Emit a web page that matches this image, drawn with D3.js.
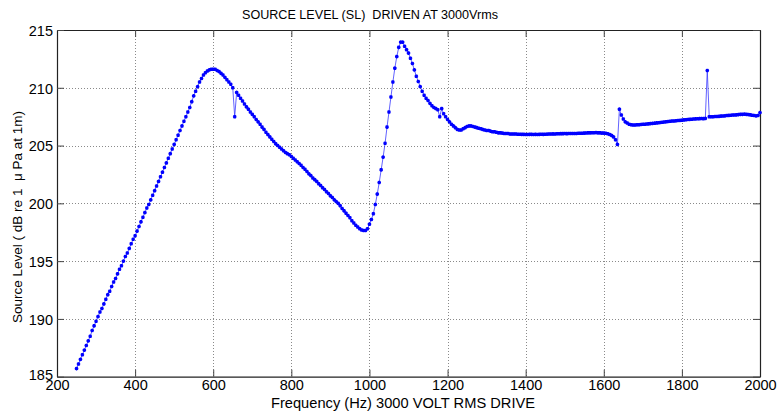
<!DOCTYPE html>
<html>
<head>
<meta charset="utf-8">
<script src="https://cdn.jsdelivr.net/npm/d3@7"></script>
<style>
  html, body { margin: 0; padding: 0; background: #ffffff; }
  svg { display: block; }
  text { font-family: Arial, "Liberation Sans", Helvetica, sans-serif; fill: #000; white-space: pre; }
</style>
</head>
<body>
<svg id="chart" width="778" height="419"></svg>
<script>
// Measured source level, one sample every 5 Hz from 250 Hz to 2000 Hz
const freqStart = 250, freqStop = 2000, freqStep = 5;
const freqHz = d3.range(freqStart, freqStop + 1, freqStep);

const levelDb = [
  185.7,186.1,186.5,186.9,187.3,187.7,188.1,188.5,189.0,189.4,
  189.8,190.2,190.6,190.9,191.3,191.7,192.1,192.4,192.8,193.2,
  193.5,193.9,194.3,194.6,195.0,195.4,195.7,196.1,196.5,196.9,
  197.2,197.6,198.0,198.4,198.8,199.2,199.6,199.9,200.3,200.7,
  201.1,201.5,201.9,202.3,202.7,203.1,203.5,203.9,204.3,204.7,
  205.1,205.5,205.9,206.3,206.7,207.1,207.5,207.9,208.3,208.8,
  209.3,209.7,210.1,210.5,210.8,211.1,211.3,211.45,211.55,211.6,
  211.6,211.6,211.5,211.4,211.25,211.1,210.9,210.7,210.5,210.3,
  210.0,207.5,209.6,209.35,209.1,208.85,208.6,208.35,208.15,207.9,
  207.7,207.5,207.25,207.05,206.85,206.6,206.4,206.15,205.95,205.75,
  205.55,205.35,205.15,205.0,204.85,204.7,204.55,204.4,204.3,204.2,
  204.05,203.9,203.75,203.6,203.45,203.3,203.1,202.95,202.75,202.55,
  202.4,202.2,202.05,201.9,201.7,201.55,201.35,201.2,201.0,200.85,
  200.65,200.5,200.3,200.15,200.0,199.8,199.55,199.35,199.15,198.95,
  198.75,198.5,198.3,198.1,197.95,197.8,197.7,197.65,197.65,197.8,
  198.2,198.6,199.1,199.9,200.8,201.8,202.9,204.0,205.2,206.6,
  207.9,209.2,210.5,211.7,212.7,213.5,213.95,213.95,213.6,213.3,
  213.0,212.55,212.1,211.55,211.0,210.55,210.1,209.7,209.35,209.1,
  208.9,208.65,208.45,208.3,208.2,208.1,207.5,208.2,207.75,207.5,
  207.25,207.05,206.85,206.7,206.55,206.4,206.35,206.35,206.45,206.55,
  206.65,206.7,206.7,206.65,206.6,206.55,206.5,206.45,206.4,206.35,
  206.3,206.3,206.25,206.2,206.2,206.15,206.1,206.1,206.08,206.05,
  206.05,206.05,206.0,206.0,206.0,206.0,205.98,205.98,205.97,205.97,
  205.96,205.96,205.97,205.97,205.96,205.97,205.96,205.97,205.98,205.97,
  205.98,205.99,206.0,206.0,206.01,206.0,206.02,206.02,206.03,206.03,
  206.04,206.03,206.04,206.05,206.04,206.05,206.05,206.06,206.06,206.07,
  206.08,206.09,206.1,206.1,206.11,206.11,206.12,206.1,206.1,206.08,
  206.08,206.06,206.02,205.96,205.88,205.75,205.5,205.1,208.15,207.65,
  207.3,207.05,206.95,206.85,206.8,206.78,206.78,206.8,206.8,206.82,
  206.84,206.85,206.86,206.88,206.9,206.92,206.94,206.96,206.98,207.0,
  207.02,207.04,207.06,207.08,207.1,207.12,207.13,207.15,207.17,207.18,
  207.2,207.22,207.24,207.25,207.27,207.28,207.3,207.31,207.32,207.33,
  207.34,207.33,207.35,211.5,207.5,207.5,207.5,207.51,207.52,207.53,
  207.55,207.56,207.57,207.6,207.61,207.62,207.64,207.65,207.66,207.68,
  207.7,207.7,207.72,207.7,207.68,207.66,207.62,207.6,207.57,207.6,
  207.85
];

const xTicks = [200, 400, 600, 800, 1000, 1200, 1400, 1600, 1800, 2000];
const yTicks = [185, 190, 195, 200, 205, 210, 215];

const titleText = "SOURCE LEVEL (SL)  DRIVEN AT 3000Vrms";
const xLabelText = "Frequency (Hz) 3000 VOLT RMS DRIVE";
const yLabelText = "Source Level ( dB re 1  \u03bc Pa at 1m)";

const points = freqHz.map((f, i) => ({ f, v: levelDb[i] }));

// Plot box
const plotLeft = 57, plotRight = 760, plotTop = 30, plotBottom = 376.7;

const svg = d3.select("#chart");

const x = d3.scaleLinear().domain([200, 2000]).range([plotLeft, plotRight]);
const y = d3.scaleLinear().domain([185, 215]).range([plotBottom, plotTop]);

// Dotted grid
const grid = svg.append("g")
  .attr("stroke", "#8a8a8a")
  .attr("stroke-width", 1)
  .attr("stroke-dasharray", "1,2");
grid.selectAll("line.vx")
  .data(xTicks.filter(t => t > 200 && t < 2000))
  .join("line")
  .attr("x1", d => Math.round(x(d)) + 0.5).attr("x2", d => Math.round(x(d)) + 0.5)
  .attr("y1", plotTop).attr("y2", plotBottom);
grid.selectAll("line.hy")
  .data(yTicks.filter(t => t > 185 && t < 215))
  .join("line")
  .attr("y1", d => Math.round(y(d)) + 0.5).attr("y2", d => Math.round(y(d)) + 0.5)
  .attr("x1", plotLeft).attr("x2", plotRight);

// Axes with inward ticks on all four sides
const tickLen = 7;
const fmt = d3.format("d");

const xBottom = svg.append("g")
  .attr("transform", `translate(0,${plotBottom})`)
  .call(d3.axisBottom(x).tickValues(xTicks).tickFormat(fmt).tickSizeInner(-tickLen).tickSizeOuter(0).tickPadding(12));
const xTopAxis = svg.append("g")
  .attr("transform", `translate(0,${plotTop})`)
  .call(d3.axisTop(x).tickValues(xTicks).tickFormat("").tickSizeInner(-tickLen).tickSizeOuter(0));
const yLeft = svg.append("g")
  .attr("transform", `translate(${plotLeft},0)`)
  .call(d3.axisLeft(y).tickValues(yTicks).tickFormat(fmt).tickSizeInner(-tickLen).tickSizeOuter(0).tickPadding(12));
const yRight = svg.append("g")
  .attr("transform", `translate(${plotRight},0)`)
  .call(d3.axisRight(y).tickValues(yTicks).tickFormat("").tickSizeInner(-tickLen).tickSizeOuter(0));

[xBottom, xTopAxis, yLeft, yRight].forEach(g => {
  g.select(".domain").attr("stroke", "#222").attr("stroke-width", 1.2);
  g.selectAll(".tick line").attr("stroke", "#444").attr("stroke-width", 1);
  g.selectAll(".tick text")
    .attr("font-family", "Arial, 'Liberation Sans', sans-serif")
    .attr("font-size", 14.5)
    .attr("fill", "#000");
});
xBottom.selectAll(".tick text").attr("dy", "0.71em").attr("y", 3.5);
yLeft.selectAll(".tick text").attr("x", -4).attr("dy", "0.36em")
  .attr("y", d => d === 185 ? -2 : 0);

// Data line and markers
const line = d3.line().x(d => x(d.f)).y(d => y(d.v));
svg.append("path")
  .datum(points)
  .attr("fill", "none")
  .attr("stroke", "#3030ff")
  .attr("stroke-width", 0.9)
  .attr("stroke-opacity", 0.85)
  .attr("d", line);

const r = 1.8;
const starPath = `M${-r},0L${r},0M0,${-r}L0,${r}M${-r*0.75},${-r*0.75}L${r*0.75},${r*0.75}M${-r*0.75},${r*0.75}L${r*0.75},${-r*0.75}`;
svg.append("g")
  .selectAll("path")
  .data(points)
  .join("path")
  .attr("transform", d => `translate(${x(d.f)},${y(d.v)})`)
  .attr("d", starPath)
  .attr("fill", "none")
  .attr("stroke", "#0000ff")
  .attr("stroke-width", 1.1);

// Title and axis labels
svg.append("text")
  .attr("x", 370).attr("y", 19)
  .attr("text-anchor", "middle")
  .attr("font-size", 12.5)
  .attr("textLength", 256)
  .attr("lengthAdjust", "spacingAndGlyphs")
  .text(titleText);

svg.append("text")
  .attr("x", 403).attr("y", 407.5)
  .attr("text-anchor", "middle")
  .attr("font-size", 14)
  .attr("textLength", 264)
  .attr("lengthAdjust", "spacingAndGlyphs")
  .text(xLabelText);

svg.append("text")
  .attr("transform", "translate(21.5,217) rotate(-90)")
  .attr("text-anchor", "middle")
  .attr("font-size", 13.5)
  .text(yLabelText);
</script>
</body>
</html>
